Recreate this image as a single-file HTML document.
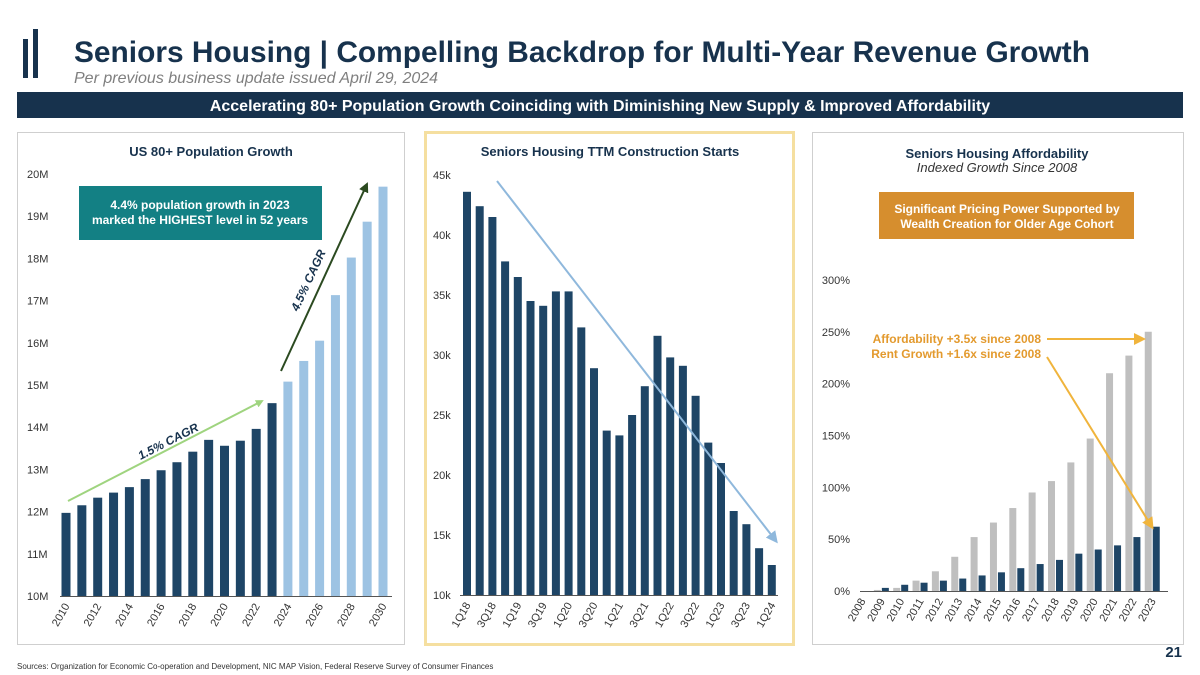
<!DOCTYPE html>
<html><head><meta charset="utf-8">
<style>
body{margin:0;background:#fff;width:1200px;height:675px;overflow:hidden;font-family:"Liberation Sans",Arial,sans-serif;}
svg{display:block}
</style></head>
<body>
<svg id="s" width="1200" height="675" xmlns="http://www.w3.org/2000/svg" font-family="Liberation Sans, Arial, sans-serif">
<defs>
<marker id="ag" markerWidth="8" markerHeight="8" refX="6" refY="4" orient="auto" markerUnits="userSpaceOnUse"><path d="M0,0 L8,4 L0,8 z" fill="#9fd47f"/></marker>
<marker id="ad" markerWidth="10" markerHeight="10" refX="8" refY="5" orient="auto" markerUnits="userSpaceOnUse"><path d="M0,0 L10,5 L0,10 z" fill="#2b4a20"/></marker>
<marker id="ab" markerWidth="12" markerHeight="12" refX="9" refY="6" orient="auto" markerUnits="userSpaceOnUse"><path d="M0,0 L12,6 L0,12 z" fill="#8fb8dc"/></marker>
<marker id="ao" markerWidth="12" markerHeight="12" refX="9" refY="6" orient="auto" markerUnits="userSpaceOnUse"><path d="M0,0 L12,6 L0,12 z" fill="#f0b43c"/></marker>
</defs>
<g><rect x="23" y="39" width="5" height="39" fill="#17324d"/><rect x="33" y="29" width="5" height="49" fill="#17324d"/></g>
<text x="74" y="62" font-size="29.5" font-weight="bold" fill="#17324d" textLength="1016" lengthAdjust="spacingAndGlyphs">Seniors Housing | Compelling Backdrop for Multi-Year Revenue Growth</text>
<text x="74" y="83" font-size="16" font-style="italic" fill="#7f7f7f">Per previous business update issued April 29, 2024</text>
<rect x="17" y="92" width="1166" height="26" fill="#17324d"/>
<text x="600" y="111" text-anchor="middle" font-size="16" font-weight="bold" fill="#fff">Accelerating 80+ Population Growth Coinciding with Diminishing New Supply &amp; Improved Affordability</text>
<rect x="17.5" y="132.5" width="387" height="512" fill="none" stroke="#cfcfcf"/>
<rect x="425.5" y="132.5" width="368" height="512" fill="none" stroke="#f5dfa0" stroke-width="3"/>
<rect x="812.5" y="132.5" width="371" height="512" fill="none" stroke="#cfcfcf"/>
<text x="1182" y="657" text-anchor="end" font-size="15" font-weight="bold" fill="#17324d">21</text>
<text x="17" y="669" font-size="8" fill="#333">Sources: Organization for Economic Co-operation and Development, NIC MAP Vision, Federal Reserve Survey of Consumer Finances</text>
<g id="c1"></g><g id="c2"></g><g id="c3"></g>
</svg>
<script>
// Chart 1 data
const popYears=[2010,2011,2012,2013,2014,2015,2016,2017,2018,2019,2020,2021,2022,2023,2024,2025,2026,2027,2028,2029,2030];
const popValues=[11.97,12.15,12.33,12.45,12.58,12.77,12.98,13.17,13.42,13.70,13.56,13.68,13.96,14.57,15.08,15.57,16.05,17.13,18.02,18.87,19.70];
const popTicks=[10,11,12,13,14,15,16,17,18,19,20];
// Chart 2 data
const qLabels=['1Q18','2Q18','3Q18','4Q18','1Q19','2Q19','3Q19','4Q19','1Q20','2Q20','3Q20','4Q20','1Q21','2Q21','3Q21','4Q21','1Q22','2Q22','3Q22','4Q22','1Q23','2Q23','3Q23','4Q23','1Q24'];
const startsValues=[43.6,42.4,41.5,37.8,36.5,34.5,34.1,35.3,35.3,32.3,28.9,23.7,23.3,25.0,27.4,31.6,29.8,29.1,26.6,22.7,21.0,17.0,15.9,13.9,12.5];
const startsTicks=[10,15,20,25,30,35,40,45];
// Chart 3 data
const affYears=[2008,2009,2010,2011,2012,2013,2014,2015,2016,2017,2018,2019,2020,2021,2022,2023];
const affordability=[0,1,3,10,19,33,52,66,80,95,106,124,147,210,227,250];
const rentGrowth=[0,3,6,8,10,12,15,18,22,26,30,36,40,44,52,62];
const affTicks=[0,50,100,150,200,250,300];

const NS='http://www.w3.org/2000/svg';
function mk(p,t,a,txt){const e=document.createElementNS(NS,t);for(const k in a)e.setAttribute(k,a[k]);if(txt!==undefined)e.textContent=txt;p.appendChild(e);return e;}

// ---- Chart 1
(function(){
const g=document.getElementById('c1');
const y=v=>596-(v-10)*42.2, x=i=>66+i*15.85;
mk(g,'text',{x:211,y:156,'text-anchor':'middle','font-size':13,'font-weight':'bold',fill:'#17324d',},'US 80+ Population Growth');
popTicks.forEach(t=>{const e=mk(g,'text',{x:27,y:y(t)+4,'font-size':11,fill:'#333'},t+'M');

});
popValues.forEach((v,i)=>{const r=mk(g,'rect',{x:x(i)-4.5,y:y(v),width:9,height:y(10)-y(v),fill:popYears[i]<=2023?'#1e4566':'#9dc3e3'});

});
mk(g,'line',{x1:60,x2:392,y1:596.5,y2:596.5,stroke:'#555'});
popYears.forEach((yr,i)=>{if(i%2)return;const e=mk(g,'text',{x:x(i)+4,y:606,'font-size':11,fill:'#333','text-anchor':'end',transform:`rotate(-60 ${x(i)+4} 606)`},yr);

});
mk(g,'rect',{x:79,y:186,width:243,height:54,fill:'#138084',});
mk(g,'text',{x:200,y:209,'text-anchor':'middle','font-size':12,'font-weight':'bold',fill:'#fff'},'4.4% population growth in 2023');
mk(g,'text',{x:200,y:224,'text-anchor':'middle','font-size':12,'font-weight':'bold',fill:'#fff'},'marked the HIGHEST level in 52 years');
mk(g,'line',{x1:68,y1:501,x2:262,y2:401,stroke:'#9fd47f','stroke-width':2,'marker-end':'url(#ag)',});
mk(g,'text',{x:170,y:445,'text-anchor':'middle','font-size':12,'font-weight':'bold','font-style':'italic',fill:'#17324d',transform:'rotate(-27 170 445)'},'1.5% CAGR');
mk(g,'line',{x1:281,y1:371,x2:367,y2:184,stroke:'#2b4a20','stroke-width':2,'marker-end':'url(#ad)',});
mk(g,'text',{x:312,y:282,'text-anchor':'middle','font-size':12,'font-weight':'bold','font-style':'italic',fill:'#17324d',transform:'rotate(-65 312 282)'},'4.5% CAGR');
})();

// ---- Chart 2
(function(){
const g=document.getElementById('c2');
const y=v=>595-(v-10)*12, x=i=>467+i*12.7;
mk(g,'text',{x:610,y:156,'text-anchor':'middle','font-size':13,'font-weight':'bold',fill:'#17324d',},'Seniors Housing TTM Construction Starts');
startsTicks.forEach(t=>{const e=mk(g,'text',{x:433,y:y(t)+4,'font-size':11,fill:'#333'},t+'k');

});
startsValues.forEach((v,i)=>{const r=mk(g,'rect',{x:x(i)-4,y:y(v),width:8,height:y(10)-y(v),fill:'#1e4566'});

});
mk(g,'line',{x1:460,x2:778,y1:595.5,y2:595.5,stroke:'#555'});
qLabels.forEach((q,i)=>{if(i%2)return;const e=mk(g,'text',{x:x(i)+4,y:605,'font-size':11,fill:'#333','text-anchor':'end',transform:`rotate(-60 ${x(i)+4} 605)`},q);

});
mk(g,'line',{x1:497,y1:181,x2:776,y2:541,stroke:'#8fb8dc','stroke-width':2,'marker-end':'url(#ab)',});
})();

// ---- Chart 3
(function(){
const g=document.getElementById('c3');
const y=v=>591-v*1.037, x=i=>862+i*19.35;
mk(g,'text',{x:997,y:158,'text-anchor':'middle','font-size':13,'font-weight':'bold',fill:'#17324d',},'Seniors Housing Affordability');
mk(g,'text',{x:997,y:172,'text-anchor':'middle','font-size':13,'font-style':'italic',fill:'#333',},'Indexed Growth Since 2008');
affTicks.forEach(t=>{const e=mk(g,'text',{x:850,y:y(t)+4,'font-size':11,fill:'#333','text-anchor':'end'},t+'%');

});
affordability.forEach((v,i)=>{const r=mk(g,'rect',{x:x(i)-7.5,y:y(v),width:7,height:y(0)-y(v),fill:'#bfbfbf'});

});
rentGrowth.forEach((v,i)=>{const r=mk(g,'rect',{x:x(i)+0.5,y:y(v),width:7,height:y(0)-y(v),fill:'#1e4566'});

});
mk(g,'line',{x1:860,x2:1168,y1:591.5,y2:591.5,stroke:'#555'});
affYears.forEach((yr,i)=>{const e=mk(g,'text',{x:x(i)+4,y:601,'font-size':11,fill:'#333','text-anchor':'end',transform:`rotate(-60 ${x(i)+4} 601)`},yr);

});
mk(g,'rect',{x:879,y:192,width:255,height:47,fill:'#d68e2e',});
mk(g,'text',{x:1007,y:213,'text-anchor':'middle','font-size':12,'font-weight':'bold',fill:'#fff'},'Significant Pricing Power Supported by');
mk(g,'text',{x:1007,y:228,'text-anchor':'middle','font-size':12,'font-weight':'bold',fill:'#fff'},'Wealth Creation for Older Age Cohort');
mk(g,'text',{x:1041,y:343,'text-anchor':'end','font-size':12,'font-weight':'bold',fill:'#e39a2e',},'Affordability +3.5x since 2008');
mk(g,'text',{x:1041,y:358,'text-anchor':'end','font-size':12,'font-weight':'bold',fill:'#e39a2e',},'Rent Growth +1.6x since 2008');
mk(g,'line',{x1:1047,y1:339,x2:1143,y2:339,stroke:'#f0b43c','stroke-width':2,'marker-end':'url(#ao)'});
mk(g,'line',{x1:1047,y1:357,x2:1152,y2:527,stroke:'#f0b43c','stroke-width':2,'marker-end':'url(#ao)'});
})();
</script>
</body></html>
